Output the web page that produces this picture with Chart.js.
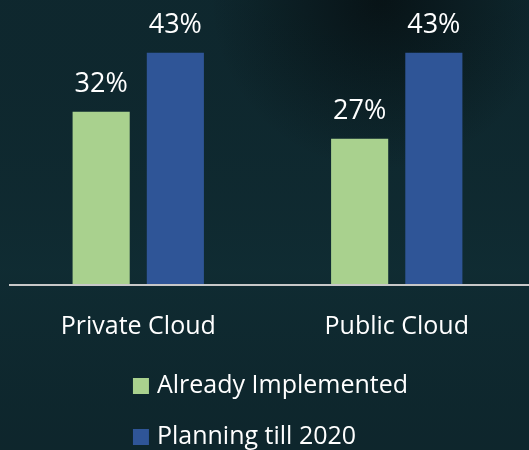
<!DOCTYPE html>
<html>
<head>
<meta charset="utf-8">
<script src="https://cdn.jsdelivr.net/npm/chart.js@4/dist/chart.umd.min.js"></script>
<style>
  html, body { margin: 0; padding: 0; background: #10282f; }
  #wrap { width: 529px; height: 450px; position: relative; }
</style>
</head>
<body>
<div id="wrap"><canvas id="c" width="529" height="450"></canvas></div>
<script>
const categories = ['Private Cloud', 'Public Cloud'];
const seriesNames = ['Already Implemented', 'Planning till 2020'];
const alreadyImplemented = [32, 27];
const planningTill2020 = [43, 43];
const seriesColors = ['#A9D18E', '#2F5597'];

const FONT = '"Open Sans", "Noto Sans", sans-serif';

const bgPlugin = {
  id: 'bg',
  beforeDraw(chart) {
    const ctx = chart.ctx, w = chart.width, h = chart.height;
    ctx.save();
    ctx.fillStyle = '#0f2930';
    ctx.fillRect(0, 0, w, h);
    let g = ctx.createRadialGradient(w * 0.72, 0, 5, w * 0.72, 0, 170);
    g.addColorStop(0, 'rgba(5,12,14,0.7)');
    g.addColorStop(1, 'rgba(5,12,14,0)');
    ctx.fillStyle = g;
    ctx.fillRect(0, 0, w, h);
    g = ctx.createLinearGradient(0, 0, 0, h);
    g.addColorStop(0, 'rgba(0,0,0,0.04)');
    g.addColorStop(0.6, 'rgba(20,62,66,0.12)');
    g.addColorStop(1, 'rgba(0,0,0,0.08)');
    ctx.fillStyle = g;
    ctx.fillRect(0, 0, w, h);
    ctx.restore();
  }
};

const axisLinePlugin = {
  id: 'axisLine',
  afterDatasetsDraw(chart) {
    const ctx = chart.ctx, a = chart.chartArea;
    ctx.save();
    ctx.strokeStyle = '#c8c8c8';
    ctx.lineWidth = 2;
    ctx.beginPath();
    ctx.moveTo(a.left, a.bottom + 1);
    ctx.lineTo(chart.width, a.bottom + 1);
    ctx.stroke();
    ctx.restore();
  }
};

const valueLabelPlugin = {
  id: 'valueLabels',
  afterDatasetsDraw(chart) {
    const ctx = chart.ctx;
    ctx.save();
    ctx.fillStyle = '#ffffff';
    ctx.font = '27px ' + FONT;
    ctx.textAlign = 'center';
    ctx.textBaseline = 'alphabetic';
    chart.data.datasets.forEach((ds, i) => {
      chart.getDatasetMeta(i).data.forEach((bar, j) => {
        ctx.fillText(ds.data[j] + '%', bar.x, bar.y - 20);
      });
    });
    ctx.restore();
  }
};

const legendPlugin = {
  id: 'customLegend',
  afterDraw(chart) {
    const ctx = chart.ctx;
    const a = chart.chartArea;
    const xs = chart.scales.x;
    ctx.save();
    ctx.font = '25px ' + FONT;
    ctx.textBaseline = 'alphabetic';
    ctx.textAlign = 'left';
    const box = 16, gap = 8, rowH = 51;
    let widest = 0;
    chart.data.datasets.forEach(ds => {
      widest = Math.max(widest, box + gap + ctx.measureText(ds.label).width);
    });
    const startX = (a.left + a.right) / 2 - widest / 2 + 3;
    const firstBoxTop = xs.bottom + 8;
    chart.data.datasets.forEach((ds, i) => {
      const top = firstBoxTop + i * rowH;
      ctx.fillStyle = ds.backgroundColor;
      ctx.fillRect(startX, top, box, box);
      ctx.fillStyle = '#ffffff';
      ctx.fillText(ds.label, startX + box + gap, top + box - 1);
    });
    ctx.restore();
  }
};

new Chart(document.getElementById('c'), {
  type: 'bar',
  data: {
    labels: categories,
    datasets: [
      { label: seriesNames[0], data: alreadyImplemented, backgroundColor: seriesColors[0], borderWidth: 0 },
      { label: seriesNames[1], data: planningTill2020, backgroundColor: seriesColors[1], borderWidth: 0 }
    ]
  },
  options: {
    responsive: false,
    animation: false,
    devicePixelRatio: 1,
    layout: { padding: { top: 15, left: 9, right: 3, bottom: 80 } },
    datasets: { bar: { categoryPercentage: 0.574, barPercentage: 0.77 } },
    plugins: { legend: { display: false }, tooltip: { enabled: false } },
    scales: {
      x: {
        grid: { display: false, drawTicks: false },
        border: { display: false },
        ticks: { color: '#ffffff', font: { family: FONT, size: 25 }, padding: 28 }
      },
      y: {
        display: false,
        min: 0,
        max: 50
      }
    }
  },
  plugins: [bgPlugin, axisLinePlugin, valueLabelPlugin, legendPlugin]
});
</script>
</body>
</html>
